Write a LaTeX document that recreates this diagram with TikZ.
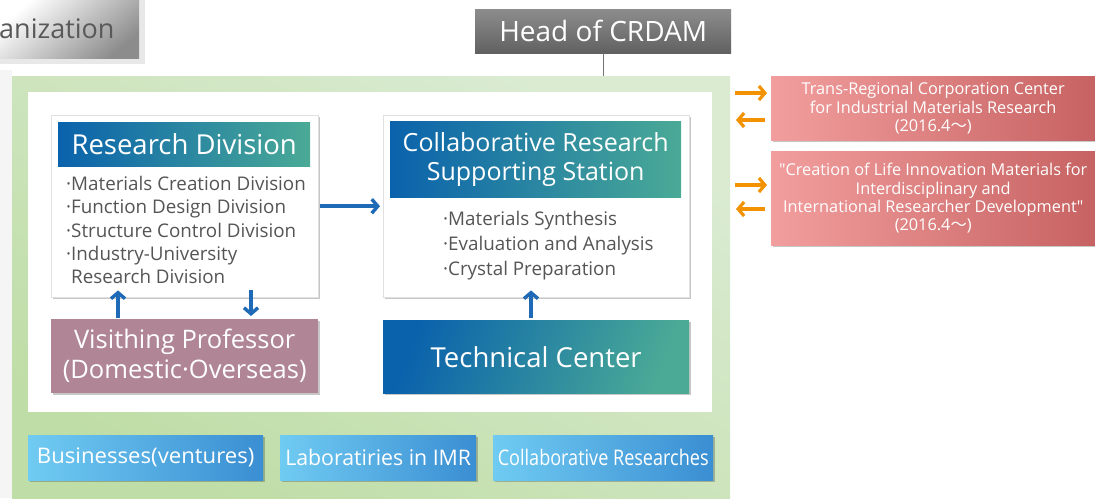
\documentclass[tikz,border=0pt]{standalone}
\usepackage{fontspec}
\setmainfont{Open Sans}
\newfontfamily\plainquote[Ligatures=TeXOff]{Open Sans}
\newfontfamily\cjk{Noto Sans CJK JP}
\usetikzlibrary{arrows.meta,shadows,calc}

\definecolor{greenA}{HTML}{DAEBD2}
\definecolor{greenB}{HTML}{BFDDA6}
\definecolor{hdrBlue}{HTML}{0A62AC}
\definecolor{hdrTeal}{HTML}{4AAA96}
\definecolor{mauve}{HTML}{B08696}
\definecolor{pinkL}{HTML}{F29E9E}
\definecolor{pinkR}{HTML}{C76262}
\definecolor{btnL}{HTML}{70CBF2}
\definecolor{btnR}{HTML}{3A8ED2}
\definecolor{arrBlue}{HTML}{1F6AB6}
\definecolor{arrOrange}{HTML}{F39200}
\definecolor{txtGray}{HTML}{555555}

\newcommand{\fsz}[2]{\fontsize{#1}{#2}\selectfont}
\newcommand{\wave}{{\cjk ～}}
\newcommand{\dq}{{\plainquote "}}

\tikzset{
  softshadow/.style={drop shadow={shadow xshift=1.5pt,shadow yshift=-1.5pt,opacity=0.22,fill=black}},
  card/.style={fill=white,draw=black!12,anchor=north west,inner sep=0,softshadow},
  hdr/.style={anchor=north west,inner sep=0,left color=hdrBlue,right color=hdrTeal,
    text=white,align=center},
  listtxt/.style={anchor=base west,inner sep=0,align=left,text=txtGray,font=\fsz{18.8}{23.3}},
  bigbox/.style={anchor=north west,inner sep=0,text=white,align=center,softshadow,font=\fsz{25.5}{30}},
  pinkbox/.style={anchor=north west,inner sep=0,left color=pinkL,right color=pinkR,text=white,
    align=center,softshadow,font=\fsz{16.3}{18.3}},
  button/.style={anchor=north west,inner sep=0,minimum height=45,left color=btnL,right color=btnR,
    text=white,softshadow,font=\fsz{21.5}{24}},
  barrow/.style={draw=arrBlue,line width=3.6pt,-{Straight Barb[length=6pt,width=14pt,line width=3.4pt]}},
  oarrow/.style={draw=arrOrange,line width=3.2pt,-{Straight Barb[length=6pt,width=14pt,line width=3.2pt]}},
}

\begin{document}
\begin{tikzpicture}[x=1pt,y=-1pt]
\useasboundingbox (0,0) rectangle (1095,498);
\fill[white] (0,0) rectangle (1095,498);
\fill[black!4] (0,70) rectangle (12,498);

% title tab, cut at the left edge
\fill[black!9] (0,0) rectangle (145,64);
\shade[top color=white,bottom color=black!45,shading angle=40] (0,0) rectangle (139,58);
\node[anchor=base west,inner sep=0,text=black!65,font=\fsz{27}{30}] (tab) at (-1,38) {anization};

% head
\node[anchor=north west,inner sep=0,minimum width=256,minimum height=44,
  top color=black!45,bottom color=black!62,text=white,font=\fsz{28}{30}] (head) at (475,9) {Head of CRDAM};

% green area and white panel
\node[anchor=north west,inner sep=0,minimum width=718,minimum height=430,
  top color=greenA,bottom color=greenB,shading angle=-30] (green) at (12,76) {};
\node[anchor=north west,inner sep=0,minimum width=684,minimum height=320,fill=white] (panel) at (28,92) {};
\draw[black!55,line width=1pt] (head.south) -- (head.south |- green.north);

% research division
\node[card,minimum width=267,minimum height=182] (rd) at (51,115) {};
\node[hdr,minimum width=252,minimum height=44,font=\fsz{27.5}{29}] (rdh) at (58,122) {Research Division};
\node[listtxt] (rdl) at (66,283.7) {·Materials Creation Division\\·Function Design Division\\
  ·Structure Control Division\\·Industry-University\\\phantom{·}Research Division};

% collaborative research supporting station
\node[card,minimum width=306,minimum height=182] (cs) at (383,115) {};
\node[hdr,minimum width=291,minimum height=76,font=\fsz{25}{29}] (csh) at (390,121) {Collaborative Research\\Supporting Station};
\node[listtxt,font=\fsz{18.8}{25}] (csl) at (443,275.5) {·Materials Synthesis\\·Evaluation and Analysis\\·Crystal Preparation};

% lower boxes
\node[bigbox,minimum width=267,minimum height=74,fill=mauve] (vp) at (51,319) {Visithing Professor\\(Domestic·Overseas)};
\node[bigbox,minimum width=306,minimum height=73,left color=hdrBlue,right color=hdrTeal,shading angle=70,
  font=\fsz{27.5}{30}] (tc) at (383,320) {Technical Center};

% connectors
\draw[barrow] ([xshift=2]rd.east) -- ([xshift=-3]cs.west);
\draw[barrow] ($(vp.north west)+(67,-1)$) -- ($(rd.south west)+(67,-7)$);
\draw[barrow] ($(rd.south west)+(200,-7)$) -- ($(vp.north west)+(200,-3)$);
\draw[barrow] ($(tc.north west)+(148,-2)$) -- ($(cs.south west)+(148,-7)$);

% bottom buttons
\node[button,minimum width=235] (b1) at (28,435) {\scalebox{1.03}[1]{Businesses(ventures)}};
\node[button,minimum width=196] (b2) at (280,435) {\scalebox{0.99}[1]{Laboratiries in IMR}};
\node[button,minimum width=220] (b3) at (493,435) {\scalebox{0.84}[1]{Collaborative Researches}};

% external centres
\node[pinkbox,minimum width=324,minimum height=64] (p1) at (771,76)
  {Trans-Regional Corporation Center\\for Industrial Materials Research\\(2016.4\wave)};
\node[pinkbox,minimum width=324,minimum height=94] (p2) at (771,151)
  {\dq Creation of Life Innovation Materials for\\Interdisciplinary and\\International Researcher Development\dq\\(2016.4\wave)};

\coordinate (g1) at ($(p1.north west)+(-36,17)$);
\coordinate (g2) at ($(p1.north west)+(-6,44)$);
\coordinate (g3) at ($(p2.north west)+(-36,34)$);
\coordinate (g4) at ($(p2.north west)+(-6,58)$);
\draw[oarrow] (g1) -- ($(g1 -| p1.west)+(-4,0)$);
\draw[oarrow] (g2) -- ($(g2)+(-29,0)$);
\draw[oarrow] (g3) -- ($(g3 -| p2.west)+(-4,0)$);
\draw[oarrow] (g4) -- ($(g4)+(-29,0)$);
\end{tikzpicture}
\end{document}
